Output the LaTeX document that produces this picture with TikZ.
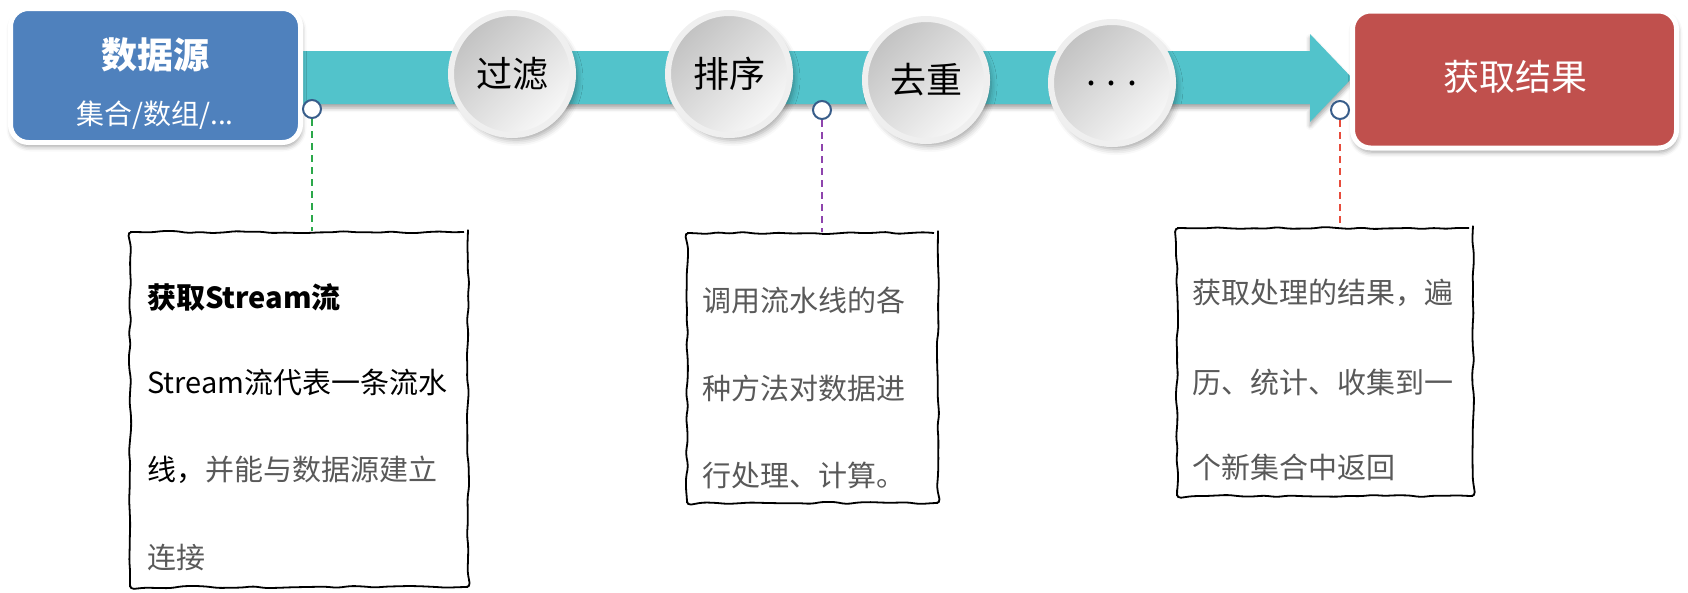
\documentclass[tikz,border=0pt]{standalone}
\usepackage{fontspec}
\newfontfamily\cjk{Noto Sans CJK SC}
\usetikzlibrary{shadows.blur,decorations.pathmorphing}
\definecolor{teal1}{HTML}{52C3CB}
\definecolor{blue1}{HTML}{4F81BD}
\definecolor{red1}{HTML}{C0504D}
\definecolor{txtgray}{HTML}{595959}
\definecolor{mk}{HTML}{385D8A}
\definecolor{dgreen}{HTML}{2BA84A}
\definecolor{dpurple}{HTML}{8E44AD}
\definecolor{dred}{HTML}{E74C3C}
\definecolor{ballA}{HTML}{C2C2C2}
\definecolor{ballB}{HTML}{F8F8F8}
\definecolor{ringgray}{HTML}{EFEFEF}
\begin{document}
\pgfmathsetseed{7}
\begin{tikzpicture}[x=1pt,y=-1pt,
  font=\cjk,
  box/.style={rectangle, rounded corners=18pt, draw=white, line width=5pt,
    blur shadow={shadow xshift=1pt, shadow yshift=-4pt, shadow blur radius=5pt, shadow opacity=40}},
  ball/.style={circle, minimum size=122pt, inner sep=0pt, draw=ringgray, line width=6pt,
    top color=ballA, bottom color=ballB, shading angle=45,
    blur shadow={shadow xshift=4pt, shadow yshift=-5pt, shadow blur radius=6pt, shadow opacity=35},
    font=\cjk\fontsize{36}{40}\selectfont, text=black},
  marker/.style={circle, minimum size=18pt, inner sep=0pt, draw=mk, line width=2pt, fill=white},
  note/.style={rectangle, draw=black, line width=1.8pt, fill=white, inner sep=0pt,
    decorate, decoration={random steps, segment length=12pt, amplitude=1.2pt}, rounded corners=4pt},
  ntext/.style={anchor=west, inner sep=0pt, text=txtgray, font=\cjk\fontsize{29}{34}\selectfont},
  dashline/.style={line width=2pt, dash pattern=on 7pt off 5pt}
]
\useasboundingbox (0,0) rectangle (1688,592);

% main arrow band
\fill[teal1, blur shadow={shadow xshift=0pt, shadow yshift=-4pt, shadow blur radius=4pt, shadow opacity=35}]
  (290,51) -- (1310,51) -- (1310,34) -- (1352,78) -- (1310,122) -- (1310,104) -- (290,104) -- cycle;

% process balls
\node[ball] (c1) at (512,74) {过滤};
\node[ball] (c2) at (729,74) {排序};
\node[ball] (c3) at (926,80) {去重};
\node[ball] (c4) at (1112,83) {. . .};

% source and result boxes
\node[box, fill=blue1, minimum width=290pt, minimum height=134pt] (src) at (155.5,75.5) {};
\node[text=white, font=\cjk\bfseries\fontsize{36}{40}\selectfont] (srct) at (155,55) {数据源};
\node[text=white, font=\cjk\fontsize{28}{32}\selectfont] (srcs) at (155,115) {集合/数组/...};

\node[box, fill=red1, minimum width=324pt, minimum height=137pt] (res) at (1514.5,79.5) {};
\node[text=white, font=\cjk\fontsize{36}{40}\selectfont] (rest) at (1515,77) {获取结果};

% notes
\node[note, minimum width=338pt, minimum height=355pt] (n1) at (299,409.5) {};
\node[note, minimum width=251pt, minimum height=270pt] (n2) at (812.5,368) {};
\node[note, minimum width=296pt, minimum height=268pt] (n3) at (1325,362) {};

% markers
\node[marker] (m1) at (312,109) {};
\node[marker] (m2) at (822,110) {};
\node[marker] (m3) at (1340,110) {};

\draw[dashline, dgreen] (m1.south) -- (m1.south |- n1.north);
\draw[dashline, dpurple] (m2.south) -- (m2.south |- n2.north);
\draw[dashline, dred] (m3.south) -- (m3.south |- n3.north);

% note texts
\node[ntext, text=black, font=\cjk\bfseries\fontsize{29}{34}\selectfont] (n1a) at (147,297) {获取Stream流};
\node[ntext, text=black] (n1b) at (147,382) {Stream流代表一条流水};
\node[ntext, text=black] (n1c) at (147,470) {线，\textcolor{txtgray}{并能与数据源建立}};
\node[ntext] (n1d) at (147,557) {连接};

\node[ntext] (n2a) at (702,300) {调用流水线的各};
\node[ntext] (n2b) at (702,388) {种方法对数据进};
\node[ntext] (n2c) at (702,475) {行处理、计算。};

\node[ntext] (n3a) at (1192,293) {获取处理的结果，遍};
\node[ntext] (n3b) at (1192,382) {历、统计、收集到一};
\node[ntext] (n3c) at (1192,467) {个新集合中返回};
\end{tikzpicture}
\end{document}
